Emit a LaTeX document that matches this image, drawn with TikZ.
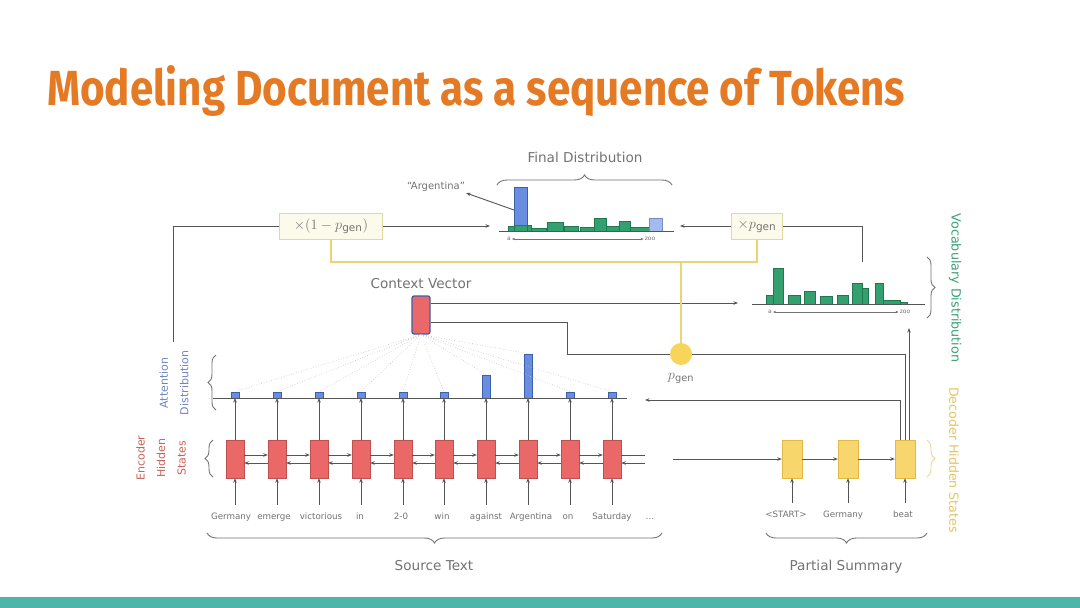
\documentclass[tikz,border=0pt]{standalone}
\usepackage{fontspec}
\usepackage{graphicx}
\usetikzlibrary{arrows.meta,decorations.pathreplacing,calc}
\setmainfont{DejaVu Sans}
\newfontfamily\titlefont{Fira Sans}
\definecolor{titleC}{RGB}{229,122,36}
\definecolor{barC}{RGB}{77,182,172}
\definecolor{lineg}{RGB}{85,85,85}
\definecolor{txtg}{RGB}{115,115,115}
\definecolor{encF}{RGB}{234,104,104}
\definecolor{encD}{RGB}{190,80,80}
\definecolor{decF}{RGB}{247,214,110}
\definecolor{decD}{RGB}{225,185,70}
\definecolor{attF}{RGB}{105,142,225}
\definecolor{attD}{RGB}{60,95,170}
\definecolor{vocF}{RGB}{52,160,112}
\definecolor{vocD}{RGB}{30,120,80}
\definecolor{yelL}{RGB}{238,210,120}
\definecolor{multF}{RGB}{252,250,234}
\definecolor{multD}{RGB}{220,220,160}
\definecolor{pgenF}{RGB}{248,213,90}
\definecolor{encT}{RGB}{200,98,88}
\definecolor{attT}{RGB}{110,135,195}
\definecolor{vocT}{RGB}{60,160,120}
\definecolor{decT}{RGB}{228,196,100}
\begin{document}
\begin{tikzpicture}[x=1pt,y=-1pt,
  ln/.style={draw=lineg, line width=0.9pt},
  arr/.style={ln, -{Stealth[length=4.5pt,width=3.5pt]}},
  yel/.style={draw=yelL, line width=1.4pt},
  encbox/.style={draw=encD, fill=encF, minimum width=18pt, minimum height=38pt, inner sep=0pt},
  decbox/.style={draw=decD, fill=decF, minimum width=20pt, minimum height=38pt, inner sep=0pt},
  word/.style={text=txtg, font=\fontsize{8.7}{10}\selectfont, inner xsep=1pt, inner ysep=8pt, text height=6pt, text depth=2pt},
  lbl/.style={text=txtg, font=\fontsize{13.6}{16}\selectfont, inner sep=1pt},
  attbar/.style={draw=attD, fill=attF, minimum width=8pt, inner sep=0pt, anchor=south},
  multbox/.style={draw=multD, fill=multF, line width=1pt, minimum height=26pt, inner sep=2pt, text=txtg, font=\fontsize{15}{17}\selectfont},
  brace/.style={decorate, decoration={brace, amplitude=#1}, draw=txtg, line width=0.9pt},
  brace/.default=10pt,
  fan/.style={draw=txtg!45, line width=0.6pt, dotted},
  vbar/.style={draw=vocD, fill=vocF, line width=0.5pt},
  axisl/.style={draw=lineg, line width=0.9pt},
  tinyl/.style={text=txtg, font=\fontsize{6}{7}\selectfont, inner sep=1pt},
  tinyarr/.style={draw=txtg, line width=0.5pt, {Stealth[length=3pt,width=2.5pt]}-{Stealth[length=3pt,width=2.5pt]}}
]
\useasboundingbox (0,0) rectangle (1080,608);
\fill[white] (0,0) rectangle (1080,608);
\fill[barC] (0,597) rectangle (1080,608);

% title
\node[anchor=base west, inner sep=0pt, text=titleC] (title) at (47,105)
  {\resizebox{858pt}{40pt}{\titlefont\bfseries Modeling Document as a sequence of Tokens}};

% ---------- encoder ----------
\foreach \i/\x/\wx/\w in {1/235/231/Germany,2/277/274/emerge,3/319/321/victorious,4/361/360/in,5/403/401/2-0,6/444/442/win,7/486/486/against,8/528/531/Argentina,9/570/568/on,10/612/612/Saturday}{
  \node[encbox] (e\i) at (\x,459) {};
  \node[word] (w\i) at (\wx,517) {\w};
  \draw[arr] (e\i.south |- w\i.north) -- (e\i.south);
}
\node[word] (wdots) at (650,517) {\dots};
\foreach \i [evaluate=\i as \j using int(\i+1)] in {1,...,9}{
  \draw[arr] ([yshift=4pt]e\i.east) -- ([yshift=4pt]e\j.west);
  \draw[arr] ([yshift=-4pt]e\j.west) -- ([yshift=-4pt]e\i.east);
}
\coordinate (encR) at (645,459);
\draw[ln] ([yshift=4pt]e10.east) -- ([yshift=4pt]encR);
\draw[arr] ([yshift=-4pt]encR) -- ([yshift=-4pt]e10.east);

% ---------- attention ----------
\coordinate (attL) at (213,398);
\coordinate (attR) at (627,398);
\foreach \i/\x/\h in {1/235/6,2/277/6,3/319/6,4/361/6,5/403/6,6/444/6,7/486/23,8/528/44,9/570/6,10/612/6}{
  \node[attbar, minimum height=\h] (b\i) at (\x,398) {};
  \draw[arr] (e\i.north) -- (b\i.south);
}
\draw[axisl] (attL) -- (attR);

% ---------- context vector ----------
\node[draw=attD, fill=encF, line width=1.2pt, minimum width=18pt, minimum height=38pt, inner sep=0pt, rounded corners=2pt] (ctx) at (421,315) {};
\node[lbl] (ctxl) at (421,284) {Context Vector};
\foreach \i in {1,...,10}{ \draw[fan] (ctx.south) -- (b\i.north); }

% ---------- p_gen ----------
\node[circle, fill=pgenF, minimum size=22pt, inner sep=0pt] (pgen) at (681,354) {};
\node[text=txtg, font=\fontsize{14}{16}\selectfont] (pgl) at (681,378) {$p_{\mathrm{gen}}$};

% ---------- decoder ----------
\foreach \i/\x/\sx/\s in {1/792/786/<START>,2/848/843/Germany,3/905/903/beat}{
  \node[decbox] (d\i) at (\x,459) {};
  \node[word] (s\i) at (\sx,515) {\s};
  \draw[arr] (d\i.south |- s\i.north) -- (d\i.south);
}
\coordinate (encout) at (673,459);
\draw[arr] (encout) -- (d1.west);
\draw[arr] (d1.east) -- (d2.west);
\draw[arr] (d2.east) -- (d3.west);

% ---------- vocabulary distribution ----------
\coordinate (vdL) at (752,304);
\coordinate (vdR) at (925,304);
\foreach \a/\b/\t in {766/773/295,773/783/268,788/800/295,804/815/291,820/832/296,837/848/295,852/862/283,862/868/288,875/883/283,883/900/300,900/907/302}{
  \draw[vbar] (\a,304) rectangle (\b,\t);
}
\draw[axisl] (vdL) -- (vdR);
\node[tinyl] (va) at (770,312) {a};
\node[tinyl] (vz) at (905,312) {zoo};
\draw[tinyarr] (va) -- (vz);

% ---------- final distribution ----------
\coordinate (fdL) at (499,231);
\coordinate (fdR) at (674,231);
\foreach \a/\b/\t in {508/514/226,527/531/225,531/546/228,547/563/222,564/578/226,580/594/227,594/606/218,606/619/226,619/630/221,630/649/227}{
  \draw[vbar] (\a,231) rectangle (\b,\t);
}
\draw[vbar] (514,231) rectangle (527,225);
\draw[draw=attD, fill=attF, line width=0.6pt] (514,225) rectangle (527,187);
\draw[draw=attD!70, fill=attF!60, line width=0.5pt] (649,231) rectangle (662,218);
\draw[axisl] (fdL) -- (fdR);
\node[tinyl] (fa) at (509,239) {a};
\node[tinyl] (fz) at (650,239) {zoo};
\draw[tinyarr] (fa) -- (fz);
\node[text=txtg, font=\fontsize{10}{12}\selectfont, inner sep=1pt] (argl) at (436,187) {“Argentina”};
\coordinate (argb) at (514,210);
\draw[arr] (argb) -- (argl.south east);

% ---------- multiply boxes ----------
\node[multbox, minimum width=103pt] (boxL) at (331,226) {$\times(1-p_{\mathrm{gen}})$};
\node[multbox, minimum width=51pt] (boxR) at (757,226) {$\times p_{\mathrm{gen}}$};

% ---------- connectors ----------
\coordinate (vin) at (738,303);
\draw[arr] ([yshift=12pt]ctx.east) -- (vin);
\coordinate (ctxturn) at (567,0);
\draw[ln] ([yshift=-7pt]ctx.east) -| (ctxturn |- pgen.west) -- (pgen.west);
\coordinate (ymid) at (0,262);
\draw[yel] (boxL.south) -- (boxL.south |- ymid) -- (boxR.south |- ymid) -- (boxR.south);
\draw[yel] (pgen.north) -- (pgen.north |- ymid);
\coordinate (attTop) at (173,342);
\draw[ln] (attTop) |- (boxL.west);
\coordinate (fdInL) at (490,226);
\draw[arr] (boxL.east) -- (fdInL);
\coordinate (vtop) at (862,262);
\draw[ln] (vtop) |- (boxR.east);
\coordinate (fdInR) at (680,226);
\draw[arr] (boxR.west) -- (fdInR);
\coordinate (attIn) at (645,400);
\draw[arr] ([xshift=-5pt]d3.north) |- (attIn);
\draw[ln] (d3.north) |- (pgen.east);
\coordinate (vbot) at (909,328);
\draw[arr] ([xshift=4pt]d3.north) -- (vbot);

% ---------- braces and labels ----------
\draw[brace] (662,533) -- (207,533);
\node[lbl] (srcl) at (434,566) {Source Text};
\draw[brace] (927,533) -- (766,533);
\node[lbl] (psl) at (846,567) {Partial Summary};
\draw[brace] (497,185) -- (672,185);
\node[lbl] (fdl) at (585,157) {Final Distribution};
\draw[brace=8pt] (216,410) -- (216,355);
\node[rotate=90, align=center, text=attT, font=\fontsize{11}{20.5}\selectfont] (attlbl) at (174,383) {Attention\\Distribution};
\draw[brace=8pt] (213,477) -- (213,440);
\node[rotate=90, align=center, text=encT, font=\fontsize{11}{20.5}\selectfont] (enclbl) at (161,458) {Encoder\\Hidden\\States};
\draw[brace=8pt] (927,257) -- (927,318);
\node[rotate=-90, text=vocT, font=\fontsize{12.7}{15}\selectfont] (voclbl) at (955,288) {Vocabulary Distribution};
\draw[brace=8pt, draw=decT!70] (927,440) -- (927,477);
\node[rotate=-90, text=decT, font=\fontsize{12.6}{15}\selectfont] (declbl) at (954,460) {Decoder Hidden States};
\end{tikzpicture}
\end{document}
